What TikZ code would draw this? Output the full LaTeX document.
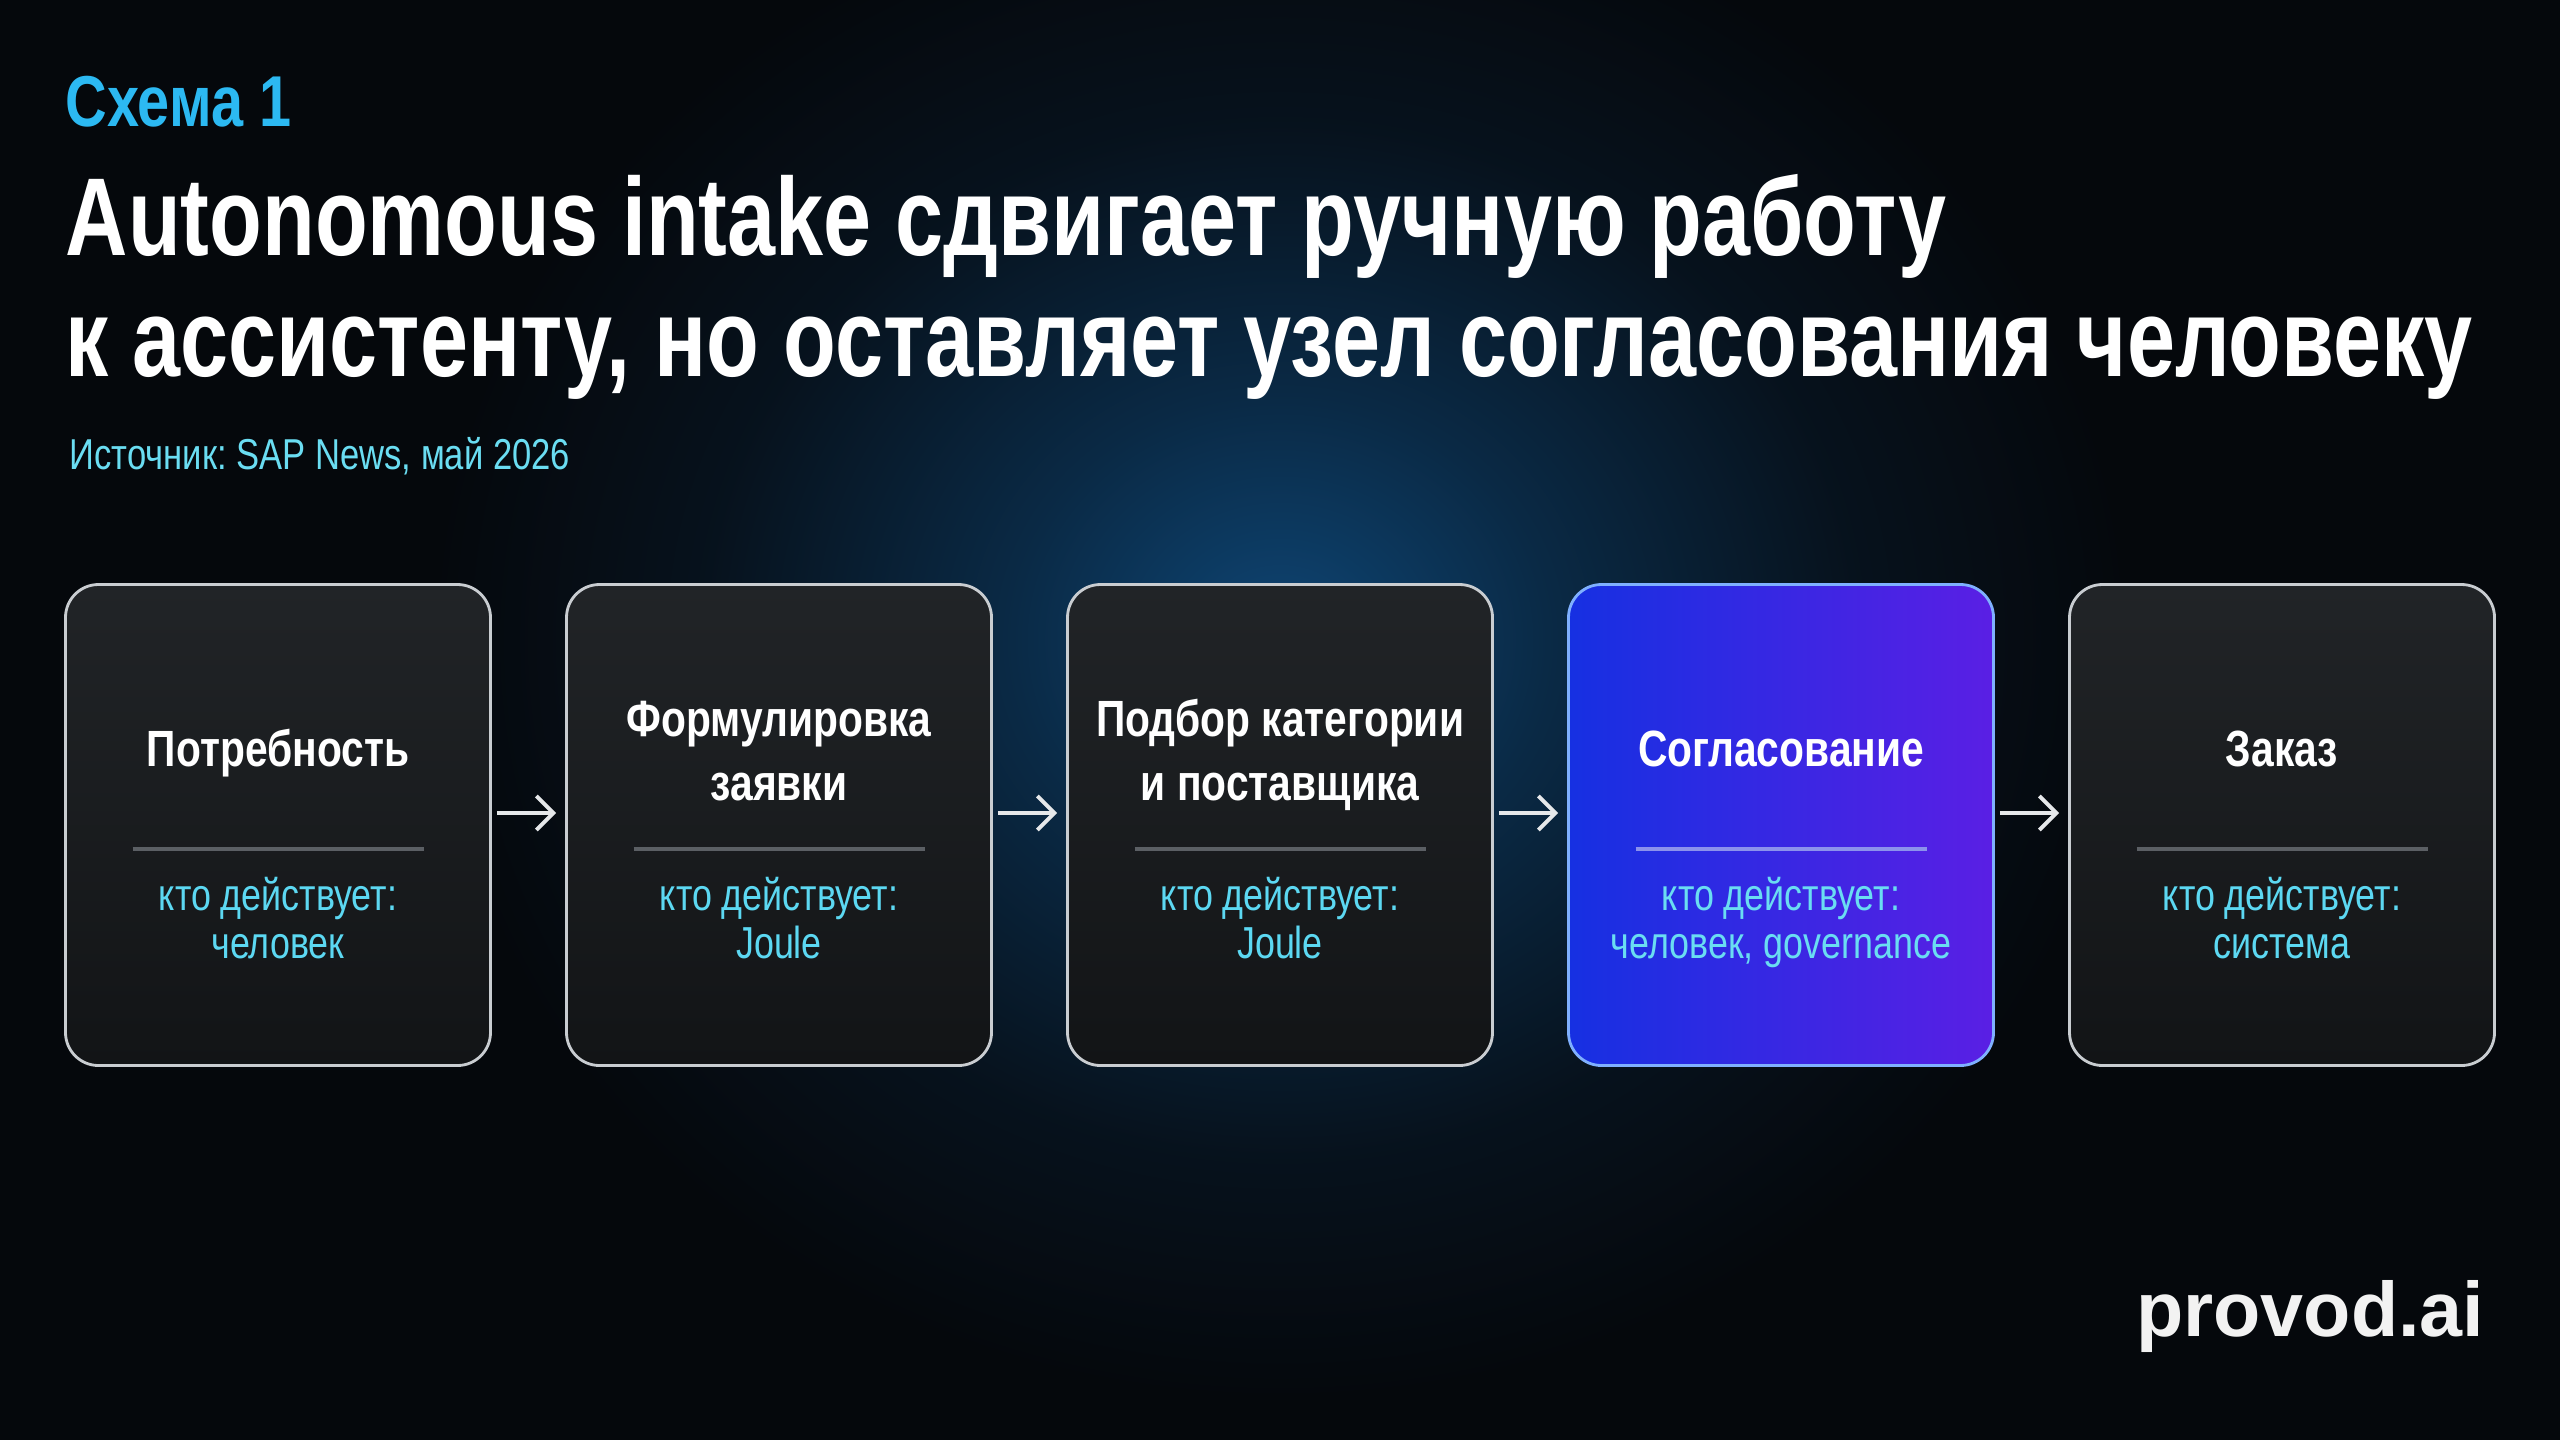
\documentclass[tikz,border=0pt]{standalone}
\usepackage{fontspec}
\setmainfont{Liberation Sans}[FakeStretch=0.8]
\newfontfamily\headfont{Liberation Sans}[FakeStretch=0.78]
\newfontfamily\logofont{Liberation Sans}
\usetikzlibrary{arrows.meta, positioning, calc}

\definecolor{bgdark}{HTML}{05080C}
\definecolor{glowblue}{HTML}{0E4574}
\definecolor{schemecyan}{HTML}{2CB9F2}
\definecolor{srccyan}{HTML}{6ADDF2}
\definecolor{actcyan}{HTML}{5CD8F2}
\definecolor{boxtop}{HTML}{212427}
\definecolor{boxbot}{HTML}{121416}
\definecolor{boxedge}{HTML}{C9CDD1}
\definecolor{divgray}{HTML}{5B5F64}
\definecolor{approveleft}{HTML}{1630E2}
\definecolor{approveright}{HTML}{5A1FE4}
\definecolor{approveedge}{HTML}{7FB0FF}
\definecolor{approvediv}{HTML}{8C92EC}
\definecolor{arrowwhite}{HTML}{E6E8EA}

\pgfdeclareradialshading{stageglow}{\pgfpoint{0bp}{0bp}}{%
  color(0bp)=(glowblue); color(8bp)=(glowblue!55!bgdark);
  color(17bp)=(glowblue!16!bgdark); color(25bp)=(bgdark); color(50bp)=(bgdark)}

\begin{document}
\frenchspacing
\begin{tikzpicture}[
    stage/.style={rounded corners=0.33cm, minimum width=4.25cm, minimum height=4.81cm,
      draw=boxedge, line width=0.8pt, top color=boxtop, bottom color=boxbot},
    stagetitle/.style={text=white, align=center, inner sep=0pt, anchor=base,
      font=\fontsize{14.5}{18.1}\selectfont\bfseries},
    stageactor/.style={text=actcyan, align=center, inner sep=0pt, anchor=base,
      font=\fontsize{12.75}{13.4}\selectfont},
    divider/.style={draw=divgray, line width=1pt},
    flow/.style={draw=arrowwhite, line width=1.1pt, shorten <=0.05cm, shorten >=0.09cm,
      -{Straight Barb[length=0.17cm, width=0.34cm]}}
  ]
  \useasboundingbox (0,0) rectangle (25.6,-14.4);

  % Background and glow
  \fill[bgdark] (0,0) rectangle (25.6,-14.4);
  \begin{scope}
    \clip (0,0) rectangle (25.6,-14.4);
    \shade[shading=stageglow] (12.8,-6.4) ellipse (8.5 and 7.6);
  \end{scope}

  % Heading
  \node[text=schemecyan, anchor=base west, inner sep=0pt,
    font=\fontsize{20.5}{24}\selectfont\bfseries] (scheme) at (0.65,-1.26) {Схема 1};
  \node[text=white, anchor=base west, align=left, inner sep=0pt,
    font=\headfont\fontsize{31.5}{34.2}\selectfont\bfseries] (headline) at (0.65,-3.76)
    {Autonomous intake сдвигает ручную работу\\к ассистенту, но оставляет узел согласования человеку};
  \node[text=srccyan, anchor=base west, inner sep=0pt,
    font=\fontsize{12.3}{15}\selectfont] (source) at (0.69,-4.69) {Источник: SAP News, май 2026};

  % Stages
  \node[stage] (need) at (2.78,-8.25) {};
  \node[stagetitle] (needtitle) at ([yshift=0.59cm]need.center) {Потребность};
  \draw[divider] ([xshift=-1.455cm, yshift=-0.24cm]need.center) -- ([xshift=1.455cm, yshift=-0.24cm]need.center);
  \node[stageactor] (needactor) at ([yshift=-1.33cm]need.center) {кто действует:\\человек};

  \node[stage] (request) at (7.79,-8.25) {};
  \node[stagetitle] (requesttitle) at ([yshift=0.25cm]request.center) {Формулировка\\заявки};
  \draw[divider] ([xshift=-1.455cm, yshift=-0.24cm]request.center) -- ([xshift=1.455cm, yshift=-0.24cm]request.center);
  \node[stageactor] (requestactor) at ([yshift=-1.33cm]request.center) {кто действует:\\Joule};

  \node[stage] (match) at (12.80,-8.25) {};
  \node[stagetitle] (matchtitle) at ([yshift=0.25cm]match.center) {Подбор категории\\и поставщика};
  \draw[divider] ([xshift=-1.455cm, yshift=-0.24cm]match.center) -- ([xshift=1.455cm, yshift=-0.24cm]match.center);
  \node[stageactor] (matchactor) at ([yshift=-1.33cm]match.center) {кто действует:\\Joule};

  \node[stage, draw=approveedge, shading angle=0, left color=approveleft, right color=approveright] (approve) at (17.81,-8.25) {};
  \node[stagetitle] (approvetitle) at ([yshift=0.59cm]approve.center) {Согласование};
  \draw[divider, draw=approvediv] ([xshift=-1.455cm, yshift=-0.24cm]approve.center) -- ([xshift=1.455cm, yshift=-0.24cm]approve.center);
  \node[stageactor, text=srccyan] (approveactor) at ([yshift=-1.33cm]approve.center) {кто действует:\\человек, governance};

  \node[stage] (order) at (22.82,-8.25) {};
  \node[stagetitle] (ordertitle) at ([yshift=0.59cm]order.center) {Заказ};
  \draw[divider] ([xshift=-1.455cm, yshift=-0.24cm]order.center) -- ([xshift=1.455cm, yshift=-0.24cm]order.center);
  \node[stageactor] (orderactor) at ([yshift=-1.33cm]order.center) {кто действует:\\система};

  % Flow
  \draw[flow] ([yshift=0.12cm]need.east) -- ([yshift=0.12cm]request.west);
  \draw[flow] ([yshift=0.12cm]request.east) -- ([yshift=0.12cm]match.west);
  \draw[flow] ([yshift=0.12cm]match.east) -- ([yshift=0.12cm]approve.west);
  \draw[flow] ([yshift=0.12cm]approve.east) -- ([yshift=0.12cm]order.west);

  % Logo
  \node[text=white!95!black, anchor=base east, inner sep=0pt,
    font=\logofont\fontsize{22}{26}\selectfont\bfseries] (logo) at (24.85,-13.36) {provod.ai};
\end{tikzpicture}
\end{document}
